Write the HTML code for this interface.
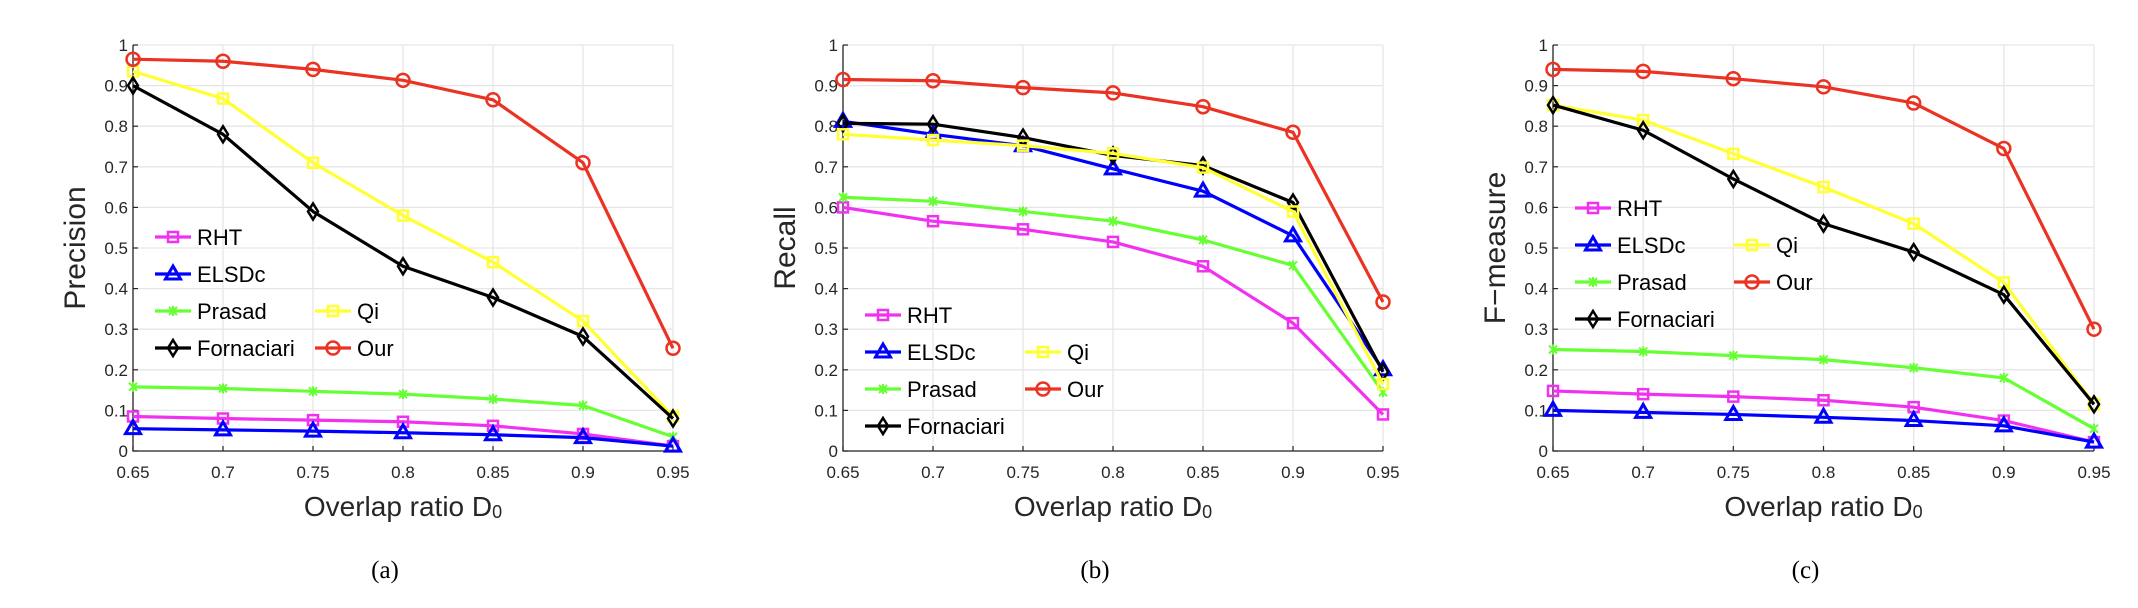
<!DOCTYPE html>
<html><head><meta charset="utf-8"><style>
body{margin:0;background:#fff;}
svg{display:block;}
</style></head><body>
<svg id="fig" width="2138" height="608" viewBox="0 0 2138 608" xmlns="http://www.w3.org/2000/svg" font-family="Liberation Sans, sans-serif"></svg>
<script>
const categories = [0.65,0.7,0.75,0.8,0.85,0.9,0.95];
const yTicks = [0,0.1,0.2,0.3,0.4,0.5,0.6,0.7,0.8,0.9,1];
const yTickLabels = ['0','0.1','0.2','0.3','0.4','0.5','0.6','0.7','0.8','0.9','1'];
const xTickLabels = ['0.65','0.7','0.75','0.8','0.85','0.9','0.95'];
// panel (a) precision
const precRHT = [0.085,0.08,0.076,0.072,0.062,0.042,0.012];
const precELSDc = [0.055,0.052,0.049,0.045,0.04,0.033,0.012];
const precPrasad = [0.158,0.154,0.147,0.14,0.128,0.112,0.035];
const precForn = [0.9,0.78,0.59,0.455,0.378,0.282,0.08];
const precQi = [0.935,0.868,0.71,0.58,0.465,0.32,0.085];
const precOur = [0.965,0.96,0.94,0.913,0.865,0.71,0.253];
// panel (b) recall
const recRHT = [0.6,0.566,0.546,0.515,0.455,0.315,0.09];
const recELSDc = [0.812,0.78,0.752,0.695,0.64,0.53,0.2];
const recPrasad = [0.625,0.615,0.59,0.566,0.52,0.457,0.145];
const recForn = [0.807,0.805,0.772,0.728,0.703,0.612,0.195];
const recQi = [0.78,0.766,0.752,0.733,0.698,0.59,0.165];
const recOur = [0.915,0.912,0.895,0.882,0.848,0.785,0.367];
// panel (c) F-measure
const fRHT = [0.148,0.14,0.134,0.125,0.108,0.075,0.022];
const fELSDc = [0.1,0.095,0.09,0.083,0.075,0.062,0.022];
const fPrasad = [0.25,0.245,0.235,0.225,0.205,0.18,0.055];
const fForn = [0.852,0.79,0.67,0.56,0.49,0.385,0.115];
const fQi = [0.852,0.815,0.732,0.65,0.56,0.415,0.115];
const fOur = [0.94,0.935,0.917,0.897,0.857,0.745,0.3];

const NS='http://www.w3.org/2000/svg';
const svg=document.getElementById('fig');
function mk(tag,attrs,parent){const e=document.createElementNS(NS,tag);for(const k in attrs)e.setAttribute(k,attrs[k]);(parent||svg).appendChild(e);return e;}

const COL={RHT:'#f032f0',ELSDc:'#0000ff',Prasad:'#66ff33',Fornaciari:'#000000',Qi:'#ffff33',Our:'#ea3323'};
const MK={RHT:'square',ELSDc:'triangle',Prasad:'star',Fornaciari:'diamond',Qi:'square',Our:'circle'};

function marker(g,type,x,y,c){
  let e;
  if(type==='square'){e=mk('rect',{x:x-5,y:y-5,width:10,height:10,fill:'none',stroke:c,'stroke-width':2.5},g);}
  else if(type==='circle'){e=mk('circle',{cx:x,cy:y,r:6.5,fill:'none',stroke:c,'stroke-width':2.5},g);}
  else if(type==='triangle'){e=mk('polygon',{points:`${x},${y-8} ${x-7.5},${y+5} ${x+7.5},${y+5}`,fill:'none',stroke:c,'stroke-width':3},g);}
  else if(type==='diamond'){e=mk('polygon',{points:`${x},${y-8} ${x+5},${y} ${x},${y+8} ${x-5},${y}`,fill:'none',stroke:c,'stroke-width':2.5},g);}
  else {e=mk('path',{d:`M${x-4} ${y-4}L${x+4} ${y+4}M${x-4} ${y+4}L${x+4} ${y-4}M${x} ${y-5}L${x} ${y+5}`,stroke:c,'stroke-width':2,fill:'none'},g);}
  
  
}

function panel(opt){
  const x0=opt.x0,x1=opt.x1,yTop=45,yBot=451;
  const xs=v=>x0+(v-0.65)/0.3*(x1-x0);
  const ys=v=>yBot-v*(yBot-yTop);
  const g=mk('g',{});
  
  
  categories.forEach(c=>{const l=mk('line',{x1:xs(c),x2:xs(c),y1:yTop,y2:yBot,stroke:'#e6e6e6','stroke-width':1.3},g);});
  yTicks.forEach(t=>{const l=mk('line',{x1:x0,x2:x1,y1:ys(t),y2:ys(t),stroke:'#e6e6e6','stroke-width':1.3},g);});
  const ax=mk('path',{d:`M${x0} ${yTop}L${x0} ${yBot}L${x1} ${yBot}`,stroke:'#262626','stroke-width':1.3,fill:'none'},g);
  
  
  yTicks.forEach((t,i)=>{
    mk('line',{x1:x0,x2:x0+5,y1:ys(t),y2:ys(t),stroke:'#262626','stroke-width':1.2},g);
    const tx=mk('text',{x:x0-5,y:ys(t)+6,'text-anchor':'end','font-size':17,fill:'#262626'},g);
    tx.textContent=yTickLabels[i];
    
    
  });
  categories.forEach((c,i)=>{
    mk('line',{x1:xs(c),x2:xs(c),y1:yBot,y2:yBot-5,stroke:'#262626','stroke-width':1.2},g);
    const tx=mk('text',{x:xs(c),y:478,'text-anchor':'middle','font-size':17,fill:'#262626'},g);
    tx.textContent=xTickLabels[i];
    
    
  });
  const xt=mk('text',{x:(x0+x1)/2,y:516,'text-anchor':'middle','font-size':28,fill:'#262626'},g);
  xt.innerHTML='Overlap ratio D<tspan font-size="18" dy="2">0</tspan>';
  
  
  const yt=mk('text',{x:0,y:0,'text-anchor':'middle','font-size':30,fill:'#262626',transform:`translate(${x0-48},248) rotate(-90)`},g);
  yt.textContent=opt.ylabel;
  
  
  const cap=mk('text',{x:(x0+x1)/2-18,y:578,'text-anchor':'middle','font-size':25,fill:'#000','font-family':'Liberation Serif, serif'},g);
  cap.textContent=opt.caption;
  
  
  const order=['Prasad','RHT','ELSDc','Qi','Fornaciari','Our'];
  const drawOrder=opt.drawOrder||order;
  drawOrder.forEach(n=>{
    const vals=opt.series[n];
    const pts=categories.map((c,i)=>xs(c)+','+ys(vals[i])).join(' ');
    const sg=mk('g',{},g);
    
    
    const pl=mk('polyline',{points:pts,fill:'none',stroke:COL[n],'stroke-width':3.2,'stroke-linejoin':'round'},sg);
    
    
    categories.forEach((c,i)=>marker(sg,MK[n],xs(c),ys(vals[i]),COL[n]));
  });
  const lg=mk('g',{},g);
  
  
  opt.legend.forEach(it=>{
    const eg=mk('g',{},lg);
    
    
    mk('line',{x1:it.x,x2:it.x+36,y1:it.y,y2:it.y,stroke:COL[it.n],'stroke-width':3.2},eg);
    marker(eg,MK[it.n],it.x+18,it.y,COL[it.n]);
    const t=mk('text',{x:it.x+42,y:it.y+8,'font-size':22,fill:'#000'},eg);
    t.textContent=it.n;
    
    
  });
}

function leg(xa,xb,ys,twoCol){
  return [
    {n:'RHT',x:xa,y:ys[0]},{n:'ELSDc',x:xa,y:ys[1]},{n:'Prasad',x:xa,y:ys[2]},{n:'Fornaciari',x:xa,y:ys[3]},
    {n:'Qi',x:xb,y:ys[twoCol[0]]},{n:'Our',x:xb,y:ys[twoCol[1]]}
  ];
}

panel({name:'precision-chart',x0:133,x1:673,ylabel:'Precision',caption:'(a)',
  series:{RHT:precRHT,ELSDc:precELSDc,Prasad:precPrasad,Fornaciari:precForn,Qi:precQi,Our:precOur},
  legend:leg(155,315,[237,274,311,348],[2,3])});
panel({name:'recall-chart',x0:843,x1:1383,ylabel:'Recall',caption:'(b)',
  drawOrder:['RHT','Prasad','ELSDc','Fornaciari','Qi','Our'],
  series:{RHT:recRHT,ELSDc:recELSDc,Prasad:recPrasad,Fornaciari:recForn,Qi:recQi,Our:recOur},
  legend:leg(865,1025,[315,352,389,426],[1,2])});
panel({name:'f-measure-chart',x0:1553,x1:2094,ylabel:'F\u2212measure',caption:'(c)',
  series:{RHT:fRHT,ELSDc:fELSDc,Prasad:fPrasad,Fornaciari:fForn,Qi:fQi,Our:fOur},
  legend:leg(1575,1734,[208,245,282,319],[1,2])});
</script>
</body></html>
